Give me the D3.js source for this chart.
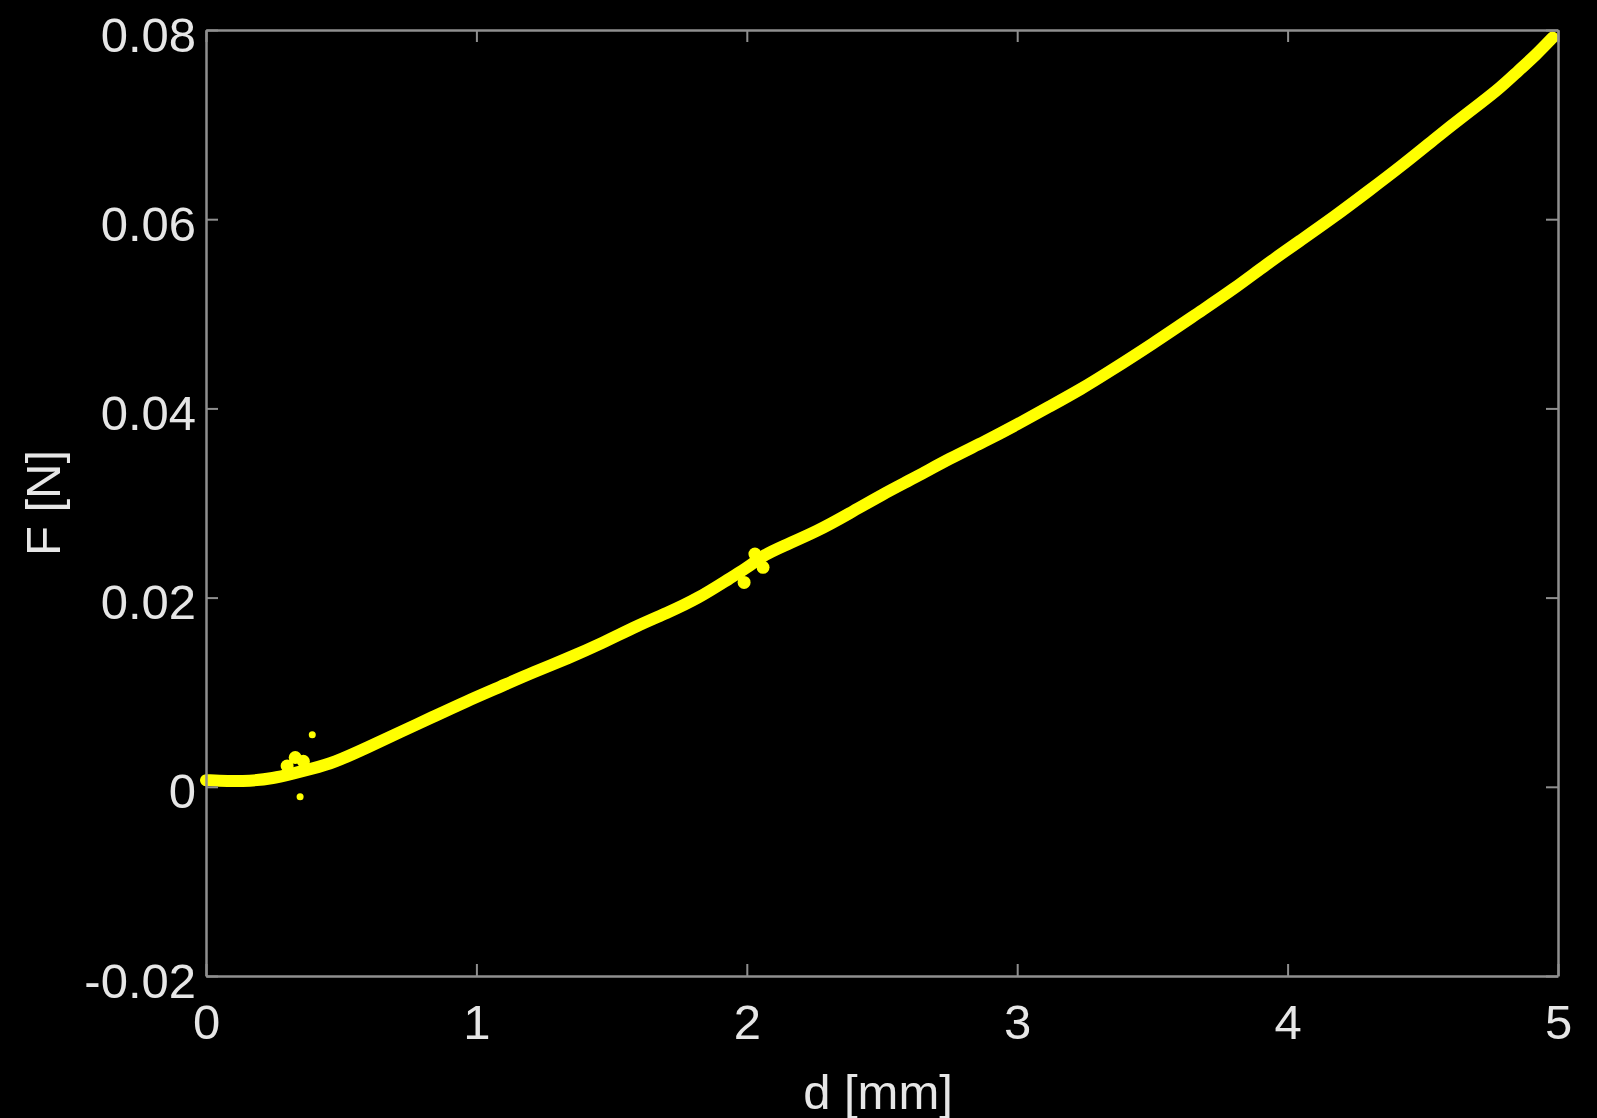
<!DOCTYPE html>
<html>
<head>
<meta charset="utf-8">
<script src="https://cdn.jsdelivr.net/npm/d3@7"></script>
<style>
  html, body { margin: 0; padding: 0; background: #000; }
  svg { display: block; }
  text { font-family: "Liberation Sans", Arial, Helvetica, sans-serif; fill: #e6e6e6; }
</style>
</head>
<body>
<svg id="svg" width="1597" height="1118"></svg>
<script>
// displacement d [mm] and force F [N]
var dValues = [0, 0.08, 0.16, 0.25, 0.32, 0.39, 0.47, 0.6, 0.72, 0.84, 0.96, 1.09, 1.21, 1.34, 1.46, 1.6,
  1.7, 1.82, 1.94, 2.01, 2.05, 2.13, 2.26, 2.38, 2.5, 2.63, 2.75, 2.88, 3.0, 3.12, 3.24, 3.33, 3.5,
  3.68, 3.8, 3.92, 4.05, 4.17, 4.3, 4.42, 4.54, 4.66, 4.78, 4.85, 4.92, 4.98];
var fValues = [0.0007, 0.0006, 0.0006, 0.0009, 0.0014, 0.0019, 0.0025, 0.0042, 0.0058, 0.0074, 0.009, 0.0106,
  0.0121, 0.0136, 0.0151, 0.0171, 0.0183, 0.0199, 0.0221, 0.0233, 0.0243, 0.0254, 0.027, 0.0289, 0.0309,
  0.0328, 0.0347, 0.0365, 0.0383, 0.0402, 0.0421, 0.0437, 0.0468, 0.0503, 0.0526, 0.0552, 0.0578, 0.0602,
  0.063, 0.0656, 0.0684, 0.0711, 0.0737, 0.0756, 0.0774, 0.0792];

// stray samples around the contact point and the step near d = 2
var strayD = [0.393, 0.348, 0.33, 0.36, 0.3, 2.03, 2.06, 1.99];
var strayF = [0.0055, -0.00105, 0.0031, 0.0027, 0.0022, 0.0246, 0.0232, 0.0216];

var xTicks = [0, 1, 2, 3, 4, 5];
var yTicks = [-0.02, 0, 0.02, 0.04, 0.06, 0.08];

var svg = d3.select("#svg"),
  margin = { top: 30, right: 39, bottom: 142, left: 206 },
  width = +svg.attr("width") - margin.left - margin.right,
  height = +svg.attr("height") - margin.top - margin.bottom,
  axisColor = "#8f8f8f",
  fontSize = 49;

var xScale = d3.scaleLinear().domain([0, 5]).range([0, width]);
var yScale = d3.scaleLinear().domain([-0.02, 0.08]).range([height, 0]);

var g = svg.append("g")
  .attr("transform", "translate(" + margin.left + "," + margin.top + ")");

// data
var points = dValues.map(function (d, i) { return [d, fValues[i]]; });

var lineGenerator = d3.line()
  .x(function (p) { return xScale(p[0]); })
  .y(function (p) { return yScale(p[1]); })
  .curve(d3.curveBasis);

g.append("path")
  .attr("d", lineGenerator(points))
  .attr("fill", "none")
  .attr("stroke", "#ffff00")
  .attr("stroke-width", 12)
  .attr("stroke-linecap", "round")
  .attr("stroke-linejoin", "round");

g.selectAll(".stray")
  .data(strayD)
  .enter().append("circle")
  .attr("class", "stray")
  .attr("cx", function (d) { return xScale(d); })
  .attr("cy", function (d, i) { return yScale(strayF[i]); })
  .attr("r", function (d, i) { return i < 2 ? 3.5 : 6.5; })
  .attr("fill", "#ffff00");

// box with inward ticks on all sides
function styleAxis(sel) {
  sel.select(".domain").attr("stroke", axisColor).attr("stroke-width", 2.5);
  sel.selectAll(".tick line").attr("stroke", axisColor).attr("stroke-width", 2);
}

g.append("g")
  .attr("transform", "translate(0," + height + ")")
  .call(d3.axisBottom(xScale).tickValues(xTicks).tickSize(-12).tickSizeOuter(0).tickFormat(d3.format("d")))
  .call(styleAxis)
  .selectAll("text")
  .attr("y", 63)
  .attr("dy", 0)
  .style("font-size", fontSize + "px")
  .style("fill", "#e6e6e6");

g.append("g")
  .call(d3.axisTop(xScale).tickValues(xTicks).tickSize(-12).tickSizeOuter(0).tickFormat(""))
  .call(styleAxis);

g.append("g")
  .call(d3.axisLeft(yScale).tickValues(yTicks).tickSize(-12).tickSizeOuter(0)
    .tickFormat(function (v) { return v === 0 ? "0" : d3.format(".2f")(v).replace("−", "-"); }))
  .call(styleAxis)
  .selectAll("text")
  .attr("x", -10)
  .attr("dy", "0.43em")
  .style("font-size", fontSize + "px")
  .style("fill", "#e6e6e6");

g.append("g")
  .attr("transform", "translate(" + width + ",0)")
  .call(d3.axisRight(yScale).tickValues(yTicks).tickSize(-12).tickSizeOuter(0).tickFormat(""))
  .call(styleAxis);

g.selectAll(".domain").attr("fill", "none");

// axis titles
svg.append("text")
  .attr("x", margin.left + width / 2 - 4)
  .attr("y", 1109)
  .attr("text-anchor", "middle")
  .style("font-size", fontSize + "px")
  .text("d [mm]");

svg.append("text")
  .attr("transform", "translate(60," + (margin.top + height / 2) + ") rotate(-90)")
  .attr("text-anchor", "middle")
  .style("font-size", fontSize + "px")
  .text("F [N]");
</script>
</body>
</html>
